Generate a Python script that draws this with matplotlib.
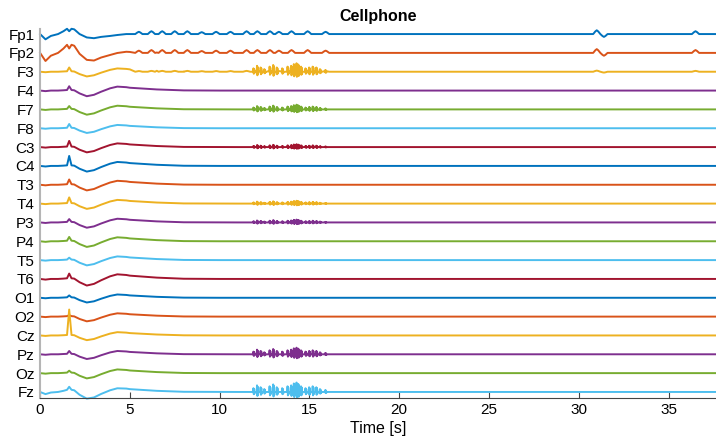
import numpy as np
import matplotlib
matplotlib.use('Agg')
import matplotlib.pyplot as plt

plt.rcParams['font.family'] = ['Liberation Sans', 'DejaVu Sans']

# channel names, top to bottom
names = ['Fp1', 'Fp2', 'F3', 'F4', 'F7', 'F8', 'C3', 'C4', 'T3', 'T4',
         'P3', 'P4', 'T5', 'T6', 'O1', 'O2', 'Cz', 'Pz', 'Oz', 'Fz']

# key times [s] and shared wave shapes
t_key = [0, 0.3, 0.6, 1.0, 1.3, 1.5, 1.62, 1.75, 1.9, 2.2, 2.6, 3.0, 3.4, 3.9,
         4.3, 4.8, 5.0, 6.5, 8.0, 10.0, 11.0, 17, 20, 23, 26, 29, 30.5, 32, 35, 37.6]
slow = [0, -0.1, 0, 0, 0.05, 0.1, 0.1, 0.1, 0.05, -0.5, -1.0, -0.75, -0.2, 0.4,
        0.7, 0.6, 0.5, 0.2, 0.03, 0, 0, 0, 0, 0, 0, 0, 0, 0, 0, 0]
spike = [0, 0, 0, 0, 0, 0, 1, 0, 0, 0, 0, 0, 0, 0,
         0, 0, 0, 0, 0, 0, 0, 0, 0, 0, 0, 0, 0, 0, 0, 0]
fp_wave = [0, -0.28, -0.1, 0, 0.15, 0.28, 0.15, 0.28, 0.25, 0, -0.18, -0.22, -0.15, -0.1,
           -0.05, 0, 0, 0, 0, 0, 0, 0, 0, 0, 0, 0, 0, 0, 0, 0]

# frontal ripples (Fp1/Fp2)
bump_t = [5.5, 6.2, 6.8, 7.5, 8.2, 9.0, 9.8, 10.6, 11.5, 12.1, 12.8, 13.3, 14.0,
          14.9, 15.9, 31.0, 31.4, 36.5]
bump_h = [0.12, 0.15, 0.15, 0.15, 0.15, 0.1, 0.12, 0.12, 0.15, 0.15, 0.15, 0.12,
          0.15, 0.15, 0.12, 0.2, -0.15, 0.15]

# high-frequency bursts around 12-16 s
burst_t = [11.9, 12.1, 12.3, 12.5, 12.8, 13.0, 13.2, 13.5, 13.8, 14.0, 14.15,
           14.3, 14.4, 14.55, 14.8, 15.0, 15.2, 15.4, 15.6, 15.9]
burst_h = [0.4, 0.7, 0.5, 0.3, 0.6, 0.8, 0.5, 0.4, 0.6, 0.7, 0.9,
           1.0, 0.85, 0.6, 0.4, 0.5, 0.6, 0.5, 0.3, 0.2]

# per-channel weights (units of channel spacing)
w_slow = [0, 0.1, 0.25, 0.3, 0.28, 0.25, 0.28, 0.3, 0.3, 0.28,
          0.28, 0.3, 0.28, 0.35, 0.25, 0.25, 0.25, 0.25, 0.28, 0.3]
w_spike = [0, 0, 0.2, 0.2, 0.15, 0.2, 0.3, 0.5, 0.25, 0.3,
           0.15, 0.2, 0.1, 0.25, 0.1, 0.05, 1.35, 0.15, 0.1, 0.2]
w_fp = [1.0, 1.5, 0, 0, 0, 0, 0, 0, 0, 0,
        0, 0, 0, 0, 0, 0, 0, 0, 0, 0.3]
w_bump = [1.0, 1.0, 0.3, 0, 0, 0, 0, 0, 0, 0,
          0, 0, 0, 0, 0, 0, 0, 0, 0, 0]
w_burst = [0, 0, 0.45, 0, 0.25, 0, 0.15, 0, 0, 0.15,
           0.15, 0, 0, 0, 0, 0, 0, 0.35, 0, 0.5]

colors = ['#0072BD', '#D95319', '#EDB120', '#7E2F8E', '#77AC30', '#4DBEEE', '#A2142F']

fig = plt.figure(figsize=(7.16, 4.43), dpi=100)
ax = fig.add_axes([0.056, 0.1016, 0.943, 0.833])

tk = np.array(t_key)
for i, name in enumerate(names):
    off = -i
    ts = list(tk)
    ys = list(w_slow[i] * np.array(slow) + w_spike[i] * np.array(spike) + w_fp[i] * np.array(fp_wave))
    if w_bump[i]:
        for bt, bh in zip(bump_t, bump_h):
            h = w_bump[i] * bh
            ts += [bt - 0.2, bt - 0.08, bt, bt + 0.08, bt + 0.2]
            ys += [0, 0.7 * h, h, 0.7 * h, 0]
    if w_burst[i]:
        for bt, bh in zip(burst_t, burst_h):
            h = w_burst[i] * bh
            ts += [bt - 0.04, bt - 0.02, bt, bt + 0.02, bt + 0.04, bt + 0.06]
            ys += [0, h, -0.6 * h, 0.8 * h, -0.4 * h, 0]
    ts = np.array(ts)
    ys = np.array(ys)
    order = np.argsort(ts, kind='stable')
    ax.plot(ts[order], ys[order] + off, color=colors[i % 7], lw=1.4, clip_on=False)

ax.set_xlim(0, 37.6)
ax.set_ylim(-19.32, 0.27)
ax.set_yticks(-np.arange(len(names)))
ax.set_yticklabels(names, fontsize=11)
ax.tick_params(axis='y', length=0, pad=4)
ax.set_xticks([0, 5, 10, 15, 20, 25, 30, 35])
ax.tick_params(axis='x', direction='in', length=4, labelsize=11, color='#444444')
ax.set_xlabel('Time [s]', fontsize=11.5, labelpad=3)
ax.set_title('Cellphone', fontsize=11.5, fontweight='bold', pad=6)
ax.spines['top'].set_visible(False)
ax.spines['right'].set_visible(False)
ax.spines['left'].set_color('#b5b5b5')
ax.spines['left'].set_linewidth(1.5)
ax.spines['bottom'].set_color('#444444')
ax.spines['bottom'].set_linewidth(0.8)

fig.savefig('out.png', dpi=100)
